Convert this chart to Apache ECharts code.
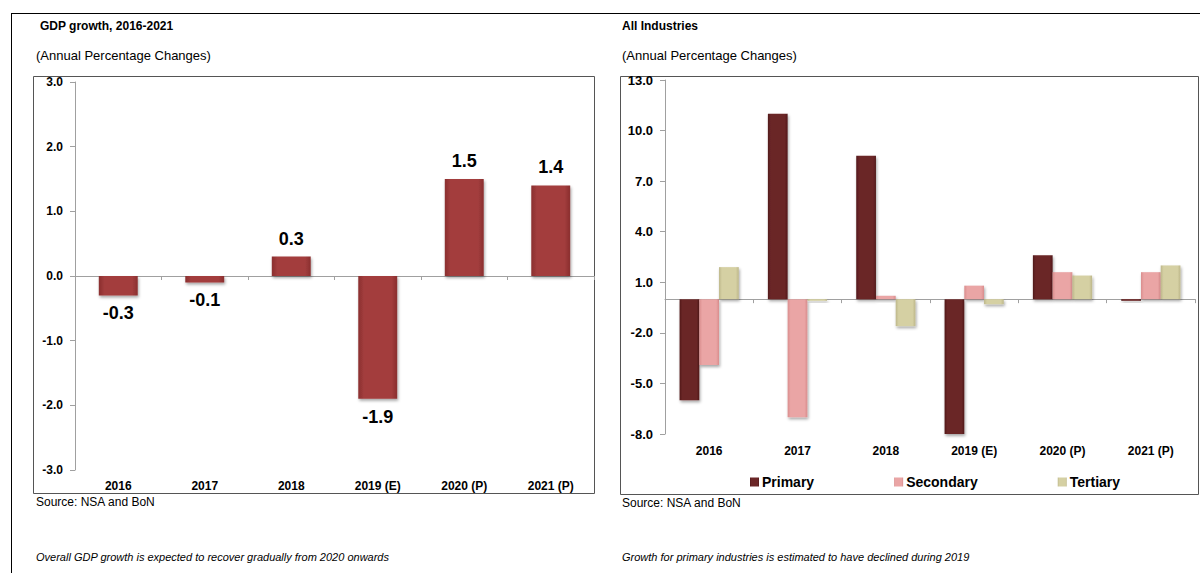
<!DOCTYPE html>
<html>
<head>
<meta charset="utf-8">
<script src="https://cdn.jsdelivr.net/npm/echarts@6/dist/echarts.min.js"></script>
<style>
  html, body { margin: 0; padding: 0; background: #fff; }
  #main { width: 1200px; height: 573px; }
</style>
</head>
<body>
<div id="main"></div>
<script>
// categories shared by both charts
const years = ['2016', '2017', '2018', '2019 (E)', '2020 (P)', '2021 (P)']

// left chart: GDP growth
const gdpGrowth = [-0.3, -0.1, 0.3, -1.9, 1.5, 1.4]

// right chart: all industries
const primary = [-6.0, 11.0, 8.5, -9.0, 2.6, -0.1]
const secondary = [-3.9, -7.0, 0.2, 0.8, 1.6, 1.6]
const tertiary = [1.9, -0.1, -1.6, -0.3, 1.4, 2.0]
const industryTicks = [-8, -5, -2, 1, 4, 7, 10, 13]

const FONT = "'Liberation Sans', Arial, sans-serif"

// bar colour with a little bevel look
const bevel = (edge, mid) => new echarts.graphic.LinearGradient(0, 0, 1, 0, [
  { offset: 0, color: edge },
  { offset: 0.15, color: mid },
  { offset: 0.85, color: mid },
  { offset: 1, color: edge }
])

const shadow = {
  shadowColor: 'rgba(0,0,0,0.35)',
  shadowBlur: 3,
  shadowOffsetX: 1,
  shadowOffsetY: 2
}

const txt = (text, x, y, font) => ({
  type: 'text',
  style: { text, x, y, font, fill: '#000', align: 'left', verticalAlign: 'middle' }
})

const chart = echarts.init(document.getElementById('main'), null, { renderer: 'svg' })

chart.setOption({
  animation: false,
  textStyle: { fontFamily: FONT },
  graphic: [
    // outer frame
    { type: 'line', shape: { x1: 11, y1: 13.5, x2: 1200, y2: 13.5 }, style: { stroke: '#000', lineWidth: 1 } },
    { type: 'line', shape: { x1: 11.5, y1: 13, x2: 11.5, y2: 573 }, style: { stroke: '#000', lineWidth: 1 } },
    // chart boxes
    { type: 'rect', shape: { x: 33.5, y: 76.5, width: 561, height: 417 }, style: { fill: 'none', stroke: '#555', lineWidth: 1 } },
    { type: 'rect', shape: { x: 620.5, y: 76.5, width: 578, height: 418 }, style: { fill: 'none', stroke: '#555', lineWidth: 1 } },
    txt('GDP growth, 2016-2021', 40, 26, 'bold 12px ' + FONT),
    txt('(Annual Percentage Changes)', 36, 55, '13px ' + FONT),
    txt('Source: NSA and BoN', 36, 502, '12px ' + FONT),
    txt('Overall GDP growth is expected to recover gradually from 2020 onwards', 36, 557, 'italic 11px ' + FONT),
    txt('All Industries', 622, 26, 'bold 12px ' + FONT),
    txt('(Annual Percentage Changes)', 622, 55, '13px ' + FONT),
    txt('Source: NSA and BoN', 622, 503, '12px ' + FONT),
    txt('Growth for primary industries is estimated to have declined during 2019', 622, 557, 'italic 11px ' + FONT)
  ],
  legend: {
    data: ['Primary', 'Secondary', 'Tertiary'],
    left: 745,
    top: 470,
    icon: 'rect',
    itemWidth: 9,
    itemHeight: 9,
    itemGap: 80,
    textStyle: { fontFamily: FONT, fontWeight: 'bold', fontSize: 14, color: '#000', padding: [0, 0, 0, -2] }
  },
  grid: [
    { left: 75, right: 606, top: 82, bottom: 103 },
    { left: 665, right: 5, top: 80, bottom: 139 }
  ],
  xAxis: [
    {
      // zero line with ticks between categories
      type: 'category', gridIndex: 0, data: years,
      axisLine: { onZero: true, lineStyle: { color: '#a0a0a0' } },
      axisTick: { show: true, length: 4, lineStyle: { color: '#a0a0a0' } },
      axisLabel: { show: false }
    },
    {
      // labels under the plot
      type: 'category', gridIndex: 0, data: years, position: 'bottom',
      axisLine: { show: false, onZero: false }, axisTick: { show: false },
      axisLabel: { margin: 10, fontFamily: FONT, fontWeight: 'bold', fontSize: 12, color: '#000' }
    },
    {
      type: 'category', gridIndex: 1, data: years,
      axisLine: { onZero: true, lineStyle: { color: '#a0a0a0' } },
      axisTick: { show: true, length: 4, lineStyle: { color: '#a0a0a0' } },
      axisLabel: { show: false }
    },
    {
      type: 'category', gridIndex: 1, data: years, position: 'bottom',
      axisLine: { show: false, onZero: false }, axisTick: { show: false },
      axisLabel: { margin: 11, fontFamily: FONT, fontWeight: 'bold', fontSize: 12, color: '#000' }
    }
  ],
  yAxis: [
    {
      type: 'value', gridIndex: 0, min: -3, max: 3, interval: 1,
      axisLine: { show: true, lineStyle: { color: '#a0a0a0' } },
      axisTick: { show: true, length: 5, lineStyle: { color: '#a0a0a0' } },
      splitLine: { show: false },
      axisLabel: {
        margin: 12, fontFamily: FONT, fontWeight: 'bold', fontSize: 12, color: '#000',
        formatter: (v) => v.toFixed(1)
      }
    },
    {
      type: 'value', gridIndex: 1, min: -8, max: 13,
      axisLine: { show: true, lineStyle: { color: '#a0a0a0' } },
      axisTick: { show: true, length: 5, customValues: industryTicks, lineStyle: { color: '#a0a0a0' } },
      splitLine: { show: false },
      axisLabel: {
        margin: 12, fontFamily: FONT, fontWeight: 'bold', fontSize: 13, color: '#000',
        customValues: industryTicks,
        formatter: (v) => v.toFixed(1)
      }
    }
  ],
  series: [
    {
      name: 'GDP growth', type: 'bar', xAxisIndex: 0, yAxisIndex: 0,
      barCategoryGap: '55%',
      itemStyle: Object.assign({ color: bevel('#8a2e2e', '#a33e3e') }, shadow),
      data: gdpGrowth.map(v => ({
        value: v,
        label: { position: v < 0 ? 'bottom' : 'top' }
      })),
      label: {
        show: true, distance: 9, fontFamily: FONT, fontWeight: 'bold', fontSize: 18, color: '#000',
        formatter: (p) => p.value.toFixed(1)
      }
    },
    {
      name: 'Primary', type: 'bar', xAxisIndex: 2, yAxisIndex: 1,
      barGap: '0%', barCategoryGap: '33%',
      itemStyle: Object.assign({ color: bevel('#521a1b', '#6b2627') }, shadow),
      data: primary
    },
    {
      name: 'Secondary', type: 'bar', xAxisIndex: 2, yAxisIndex: 1,
      barGap: '0%', barCategoryGap: '33%',
      itemStyle: Object.assign({ color: bevel('#d98d8d', '#eaa5a5') }, shadow),
      data: secondary
    },
    {
      name: 'Tertiary', type: 'bar', xAxisIndex: 2, yAxisIndex: 1,
      barGap: '0%', barCategoryGap: '33%',
      itemStyle: Object.assign({ color: bevel('#bdb78a', '#d5d0a3') }, shadow),
      data: tertiary
    }
  ]
})
</script>
</body>
</html>
